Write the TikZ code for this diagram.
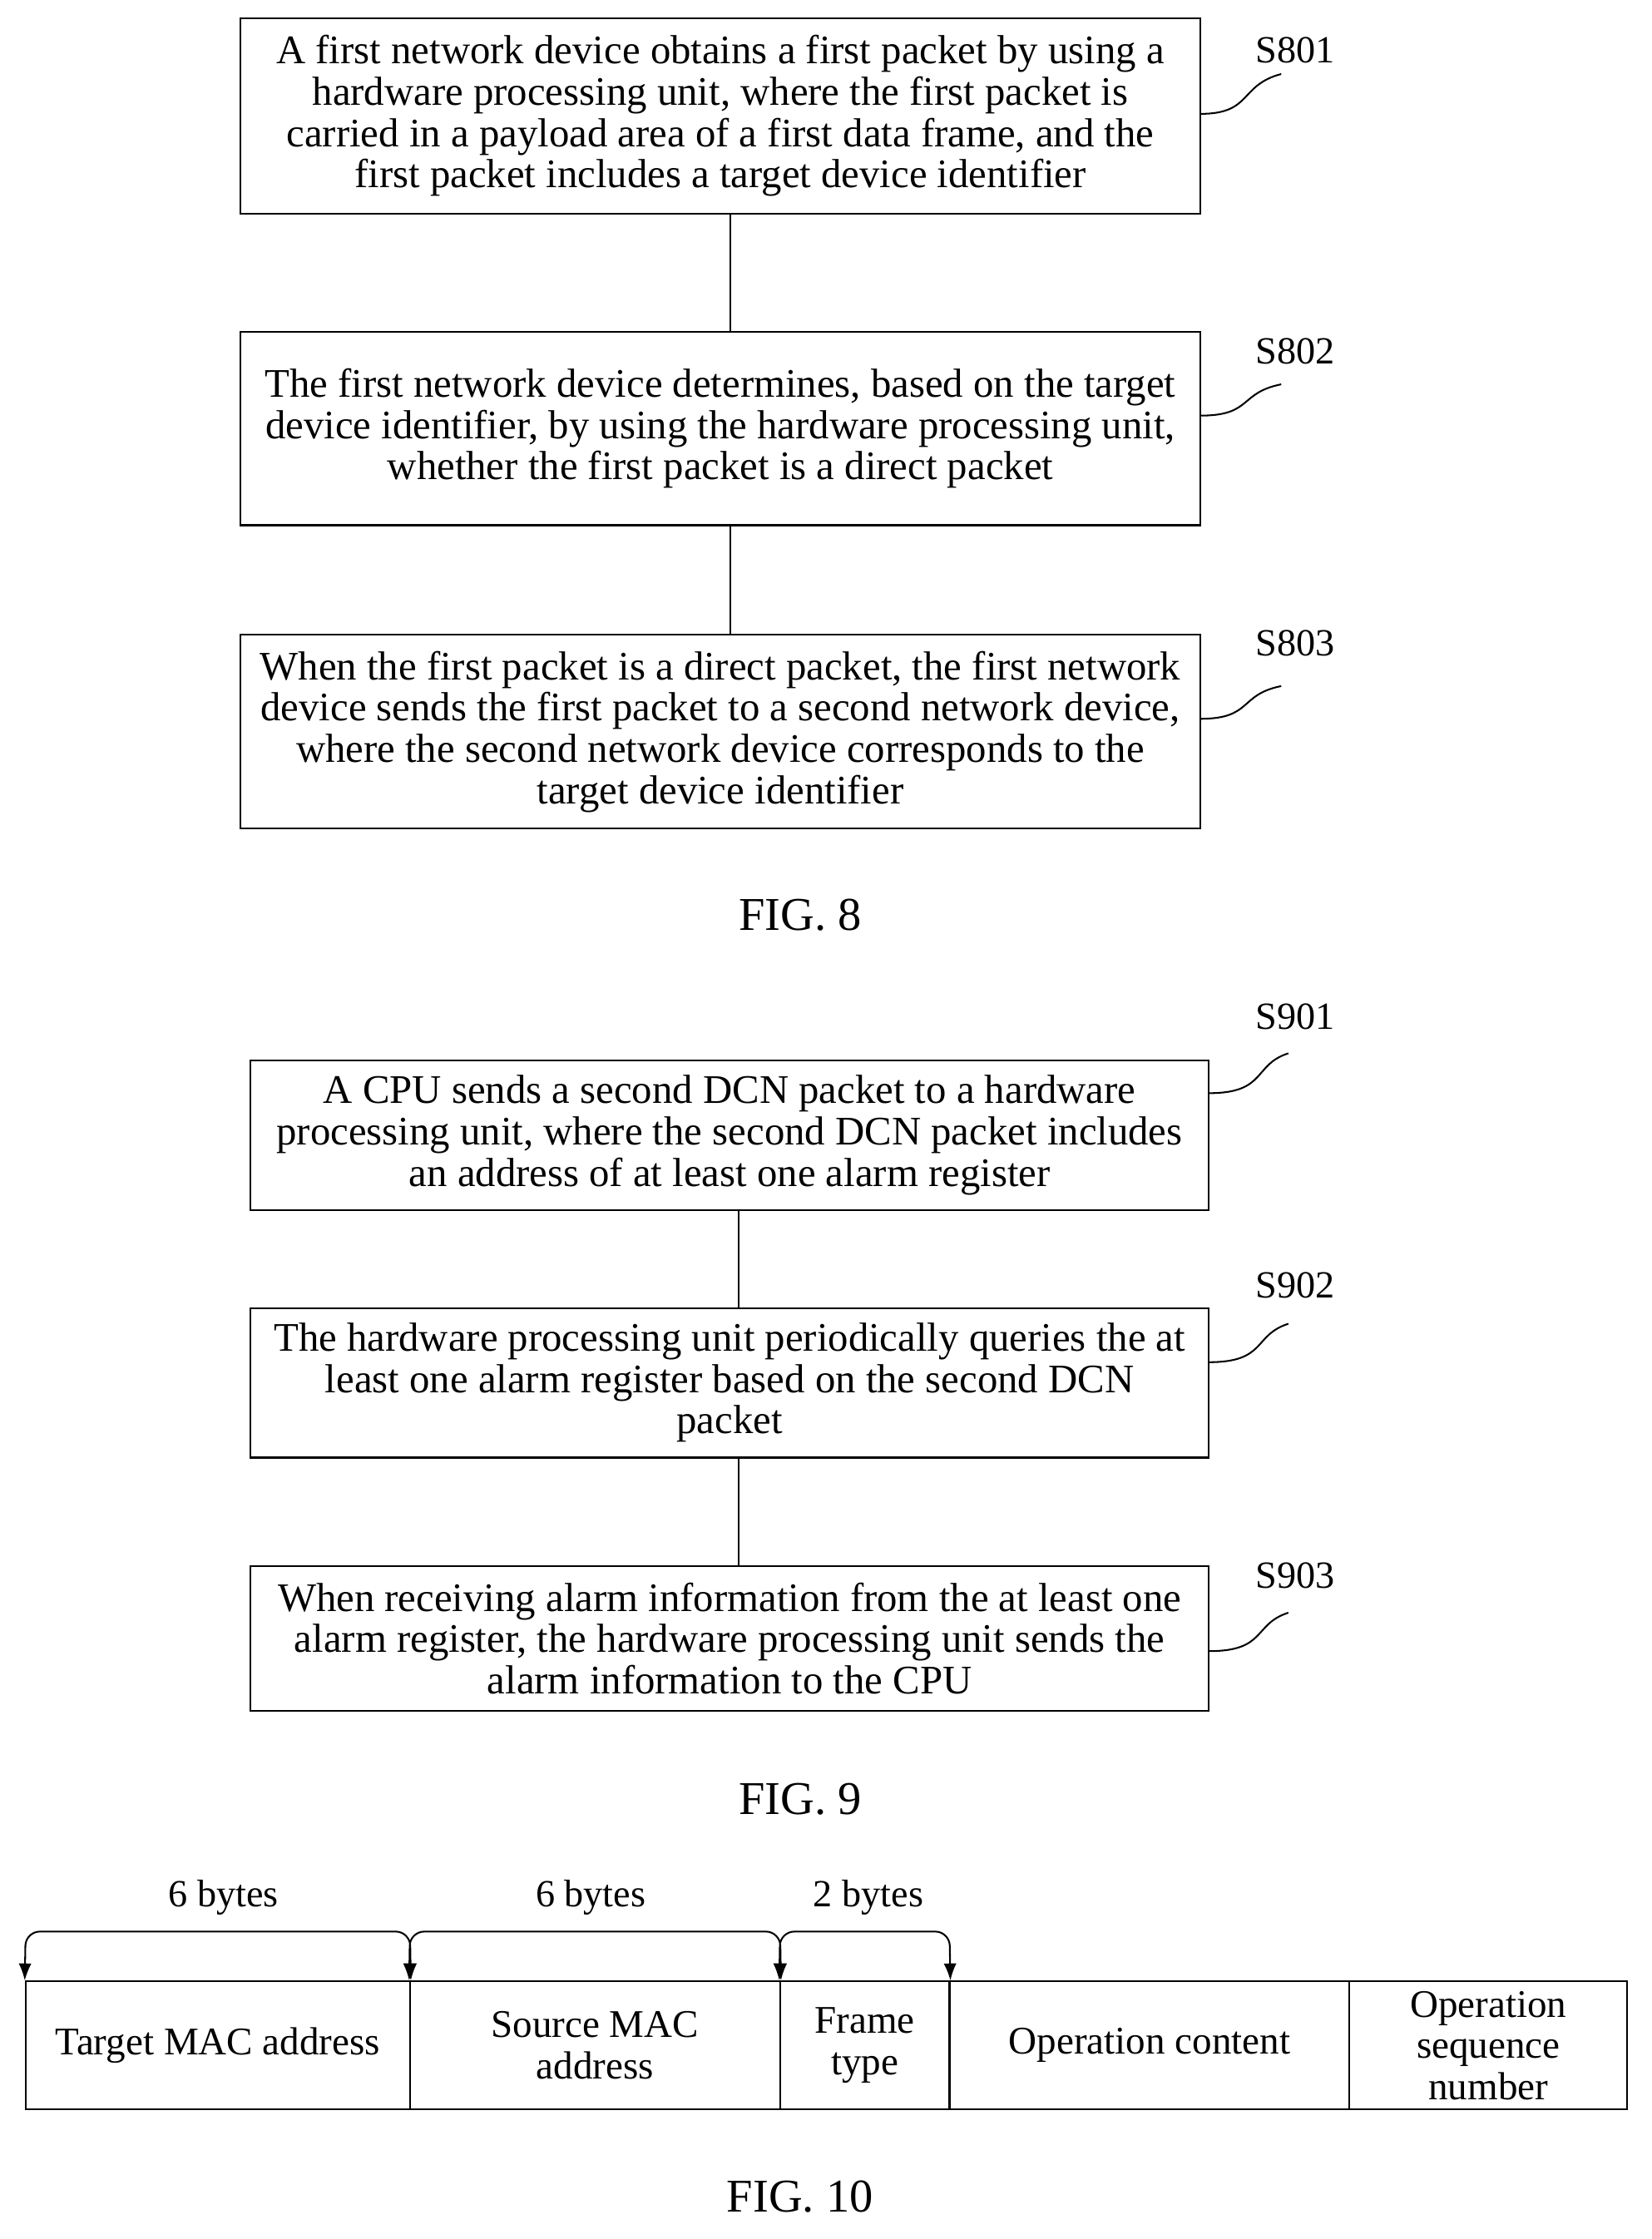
\documentclass[tikz,border=0pt]{standalone}
\usepackage{fontspec}
\setmainfont{Liberation Serif}
\usetikzlibrary{arrows.meta}
\begin{document}
\begin{tikzpicture}[x=1pt,y=-1pt,
  box/.style={draw,line width=1.2pt,rectangle,align=center,inner sep=0pt,font=\fontsize{28.5}{29}\selectfont},
  lab/.style={font=\fontsize{27}{29}\selectfont},
  fig/.style={font=\fontsize{33}{36}\selectfont},
  ln/.style={line width=1.2pt}]
\useasboundingbox (0,0) rectangle (1160,1573);
% FIG 8
\node[box,minimum width=674,minimum height=137] (a1) at (506,81.5) {A first network device obtains a first packet by using a\\hardware processing unit, where the first packet is\\carried in a payload area of a first data frame, and the\\first packet includes a target device identifier};
\node[box,minimum width=674,minimum height=136] (a2) at (506,301) {The first network device determines, based on the target\\device identifier, by using the hardware processing unit,\\whether the first packet is a direct packet};
\node[box,minimum width=674,minimum height=136] (a3) at (506,514) {When the first packet is a direct packet, the first network\\device sends the first packet to a second network device,\\where the second network device corresponds to the\\target device identifier};
\draw[ln] (a1.south -| 513,0) -- (a2.north -| 513,0);
\draw[ln] (a2.south -| 513,0) -- (a3.north -| 513,0);
\node[lab] (s1) at (910,35) {S801};
\node[lab] (s2) at (910,247) {S802};
\node[lab] (s3) at (910,452) {S803};
\draw[ln] (843,80) .. controls (880,80) and (870,60) .. (900,52);
\draw[ln] (843,292) .. controls (880,292) and (870,276) .. (900,270);
\draw[ln] (843,505) .. controls (880,505) and (870,488) .. (900,482);
\node[fig] (f8) at (562,643) {FIG. 8};
% FIG 9
\node[box,minimum width=673,minimum height=105] (b1) at (512.5,797.5) {A CPU sends a second DCN packet to a hardware\\processing unit, where the second DCN packet includes\\an address of at least one alarm register};
\node[box,minimum width=673,minimum height=105] (b2) at (512.5,971.5) {The hardware processing unit periodically queries the at\\least one alarm register based on the second DCN\\packet};
\node[box,minimum width=673,minimum height=102] (b3) at (512.5,1151) {When receiving alarm information from the at least one\\alarm register, the hardware processing unit sends the\\alarm information to the CPU};
\draw[ln] (b1.south -| 519,0) -- (b2.north -| 519,0);
\draw[ln] (b2.south -| 519,0) -- (b3.north -| 519,0);
\node[lab] (t1) at (910,714) {S901};
\node[lab] (t2) at (910,903) {S902};
\node[lab] (t3) at (910,1107) {S903};
\draw[ln] (849,768) .. controls (890,768) and (880,748) .. (905,740);
\draw[ln] (849,957) .. controls (890,957) and (880,938) .. (905,930);
\draw[ln] (849,1160) .. controls (890,1160) and (880,1141) .. (905,1133);
\node[fig] (f9) at (562,1264) {FIG. 9};
% FIG 10
\tikzset{cell/.style={draw,line width=1.2pt,rectangle,align=center,inner sep=0pt,minimum height=90,font=\fontsize{27.5}{29}\selectfont}}
\node[cell,minimum width=270] (c1) at (153,1437) {Target MAC address};
\node[cell,minimum width=260] (c2) at (418,1437) {Source MAC\\address};
\node[cell,minimum width=119] (c3) at (607.5,1437) {Frame\\type};
\node[cell,minimum width=281] (c4) at (807.5,1437) {Operation content};
\node[cell,minimum width=195] (c5) at (1045.5,1437) {Operation\\sequence\\number};
\draw[ln,{Latex[length=12,width=9]}-{Latex[length=12,width=9]},rounded corners=10] (c1.north west) -- (18,1357) -- (288,1357) -- (c1.north east);
\draw[ln,{Latex[length=12,width=9]}-{Latex[length=12,width=9]},rounded corners=10] (c2.north west) -- (288,1357) -- (548,1357) -- (c2.north east);
\draw[ln,{Latex[length=12,width=9]}-{Latex[length=12,width=9]},rounded corners=10] (c3.north west) -- (548,1357) -- (667,1357) -- (c3.north east);
\node[lab] (l1) at (157,1333) {6 bytes};
\node[lab] (l2) at (415,1333) {6 bytes};
\node[lab] (l3) at (610,1333) {2 bytes};
\node[fig] (f10) at (562,1543) {FIG. 10};
\end{tikzpicture}
\end{document}
